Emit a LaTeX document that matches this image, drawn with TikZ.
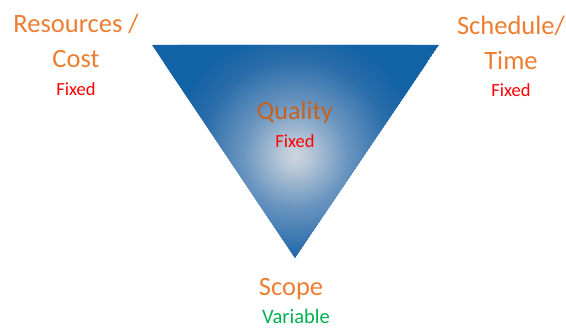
\documentclass[tikz,border=0pt]{standalone}
\usepackage{fontspec}
\setmainfont{Carlito}
\definecolor{lblorange}{HTML}{ED7D31}
\definecolor{qorange}{HTML}{C8611C}
\definecolor{fixedred}{HTML}{FF0000}
\definecolor{vargreen}{HTML}{00B050}
\definecolor{triblue}{HTML}{1262A6}
\definecolor{trinear}{HTML}{2A6DAA}
\definecolor{trimid}{HTML}{6A95C0}
\definecolor{tricenter}{HTML}{CDD5DE}
\pgfdeclareradialshading{qualshade}{\pgfpoint{0bp}{0bp}}{%
  color(0bp)=(tricenter); color(14bp)=(tricenter!80!trimid); color(52bp)=(trimid); color(95bp)=(trinear); color(125bp)=(triblue); color(160bp)=(triblue)}
\begin{document}
\begin{tikzpicture}[x=1pt,y=-1pt,
  big/.style={font=\fontsize{26.5}{30}\selectfont, text=lblorange, anchor=base, inner sep=0pt},
  qual/.style={font=\fontsize{26}{30}\selectfont, text=qorange, anchor=base, inner sep=0pt},
  fixd/.style={font=\fontsize{18.5}{20}\selectfont, text=fixedred, anchor=base, inner sep=0pt},
  vari/.style={font=\fontsize{20.5}{22}\selectfont, text=vargreen, anchor=base, inner sep=0pt}]
\useasboundingbox (0,0) rectangle (566,329);
\coordinate (tl) at (152,45);
\coordinate (tr) at (439,45);
\coordinate (bt) at (295,258);
\begin{scope}
  \clip (tl) -- (tr) -- (bt) -- cycle;
  \fill[triblue] (tl) -- (tr) -- (bt) -- cycle;
  \node[inner sep=0pt, outer sep=0pt] (glow) at (295,155) {\pgfuseshading{qualshade}};
\end{scope}
\node[big] (res) at (76,33) {Resources /};
\node[big] (cost) at (76,68) {Cost};
\node[fixd] (f1) at (76,96) {Fixed};
\node[big] (sch) at (511,35) {Schedule/};
\node[big] (time) at (511,70) {Time};
\node[fixd] (f2) at (511,97) {Fixed};
\node[qual] (q) at (295,120) {Quality};
\node[fixd] (f3) at (295,148) {Fixed};
\node[big] (sc) at (291,295) {Scope};
\node[vari] (var) at (296,323) {Variable};
\end{tikzpicture}
\end{document}
